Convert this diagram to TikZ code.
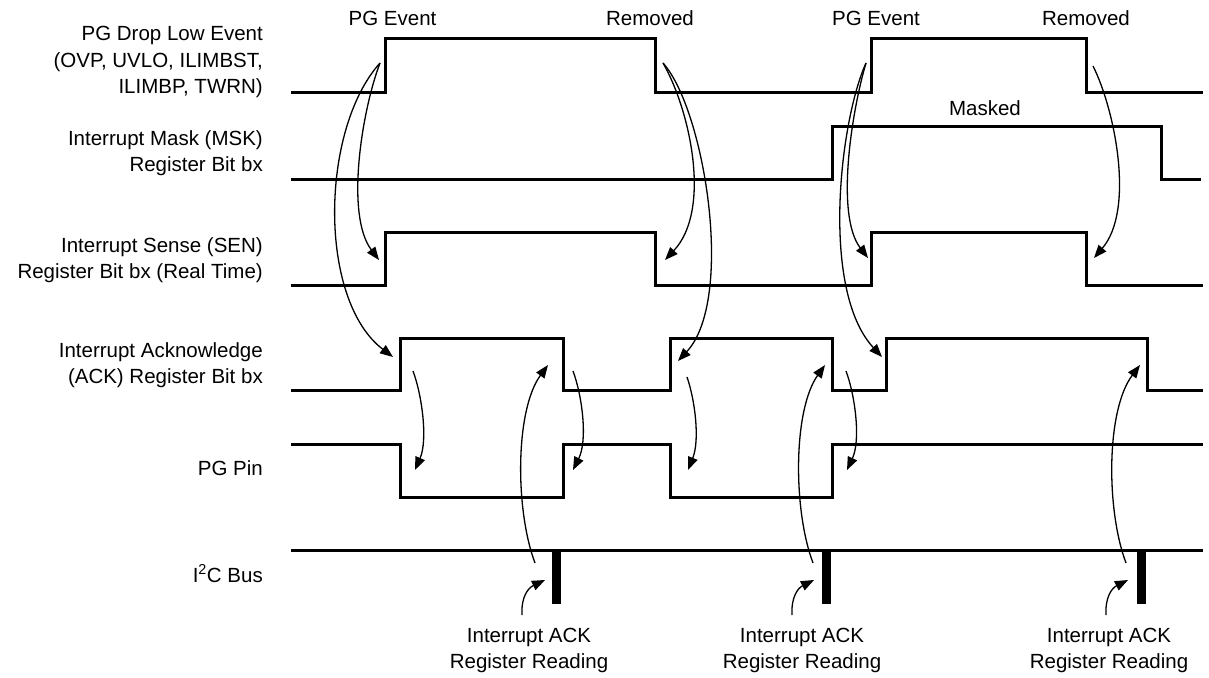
\documentclass[tikz,border=0pt]{standalone}
\usepackage{fontspec}
\setmainfont{Liberation Sans}
\usetikzlibrary{arrows.meta}
\begin{document}
\begin{tikzpicture}[x=1pt,y=-1pt,
  sig/.style={line width=3pt, line join=miter, line cap=butt},
  arr/.style={line width=1.3pt, -{Triangle[length=13pt,width=10pt]}},
  lbl/.style={font=\fontsize{20.5}{24}\selectfont, inner sep=0pt},
  busbar/.style={fill=black},
]
\useasboundingbox (0,0) rectangle (1209,677);
\fill[white] (0,0) rectangle (1209,677);

% ---------- left labels ----------
\node[lbl, anchor=base east] (l1a) at (263,41) {PG Drop Low Event};
\node[lbl, anchor=base east] (l1b) at (263,67.5) {(OVP, UVLO, ILIMBST,};
\node[lbl, anchor=base east] (l1c) at (263,93.5) {ILIMBP, TWRN)};
\node[lbl, anchor=base east] (l2a) at (263,145) {Interrupt Mask (MSK)};
\node[lbl, anchor=base east] (l2b) at (263,171) {Register Bit bx};
\node[lbl, anchor=base east] (l3a) at (263,252) {Interrupt Sense (SEN)};
\node[lbl, anchor=base east] (l3b) at (263,278) {Register Bit bx (Real Time)};
\node[lbl, anchor=base east] (l4a) at (263,357) {Interrupt Acknowledge};
\node[lbl, anchor=base east] (l4b) at (263,383) {(ACK) Register Bit bx};
\node[lbl, anchor=base east] (l5) at (263,475) {PG Pin};
\node[lbl, anchor=base east] (l6) at (263,582) {I\textsuperscript{2}C Bus};

% ---------- top labels ----------
\node[lbl, anchor=base] (ev1) at (392.5,26) {PG Event};
\node[lbl, anchor=base] (rm1) at (650,26) {Removed};
\node[lbl, anchor=base] (ev2) at (876,26) {PG Event};
\node[lbl, anchor=base] (rm2) at (1086,26) {Removed};
\node[lbl, anchor=base] (msk) at (985,115) {Masked};

% ---------- bottom labels ----------
\node[lbl, anchor=base] (r1a) at (529,642) {Interrupt ACK};
\node[lbl, anchor=base] (r1b) at (529,668) {Register Reading};
\node[lbl, anchor=base] (r2a) at (802,642) {Interrupt ACK};
\node[lbl, anchor=base] (r2b) at (802,668) {Register Reading};
\node[lbl, anchor=base] (r3a) at (1109,642) {Interrupt ACK};
\node[lbl, anchor=base] (r3b) at (1109,668) {Register Reading};

% ---------- waveforms ----------
% PG drop low event
\draw[sig] (291,92) -- (385,92) -- (385,39) -- (655,39) -- (655,92) -- (871,92)
  -- (871,39) -- (1086,39) -- (1086,92) -- (1203,92);
% MSK
\draw[sig] (291,179) -- (832,179) -- (832,126) -- (1161,126) -- (1161,179) -- (1201,179);
% SEN
\draw[sig] (291,285) -- (385,285) -- (385,232) -- (655,232) -- (655,285) -- (871,285)
  -- (871,232) -- (1086,232) -- (1086,285) -- (1203,285);
% ACK
\draw[sig] (291,390) -- (400,390) -- (400,338) -- (563,338) -- (563,390) -- (670,390)
  -- (670,338) -- (832,338) -- (832,390) -- (886,390) -- (886,338) -- (1147,338)
  -- (1147,390) -- (1203,390);
% PG pin
\draw[sig] (291,444) -- (400,444) -- (400,497) -- (563,497) -- (563,444) -- (670,444)
  -- (670,497) -- (832,497) -- (832,444) -- (1203,444);
% I2C bus
\draw[sig] (291,550) -- (1203,550);
\fill[busbar] (552,550) rectangle (561,604);
\fill[busbar] (821.5,550) rectangle (830.5,604);
\fill[busbar] (1136.5,550) rectangle (1145.5,604);

% ---------- arrow end points ----------
\coordinate (e1) at (380,63);
\coordinate (e2) at (866,63);
\coordinate (q1) at (663,63);
\coordinate (q2) at (1093,66);
\coordinate (sen1r) at (379,260);
\coordinate (sen1f) at (665,260);
\coordinate (sen2r) at (868,258);
\coordinate (sen2f) at (1094,258);
\coordinate (ack1r) at (393,357);
\coordinate (ack2r) at (678,361);
\coordinate (ack3r) at (882,357);
\coordinate (a1) at (413,371);
\coordinate (a2) at (573,371);
\coordinate (a3) at (687,377);
\coordinate (a4) at (846,371);
\coordinate (p1) at (415,470);
\coordinate (p2) at (573,470);
\coordinate (p3) at (688,470);
\coordinate (p4) at (847,470);
\coordinate (b1) at (535,563);
\coordinate (b2) at (813,563);
\coordinate (b3) at (1126,563);
\coordinate (f1) at (548,365);
\coordinate (f2) at (825,365);
\coordinate (f3) at (1140,365);
\coordinate (t1) at (522,615);
\coordinate (t2) at (792,615);
\coordinate (t3) at (1106,615);
\coordinate (h1) at (545,580);
\coordinate (h2) at (814,580);
\coordinate (h3) at (1128,580);

% ---------- arrows ----------
\draw[arr] (e1) .. controls (362,110) and (345,215) .. (sen1r);
\draw[arr] (e1) .. controls (320,130) and (318,300) .. (ack1r);
\draw[arr] (q1) .. controls (690,110) and (712,210) .. (sen1f);
\draw[arr] (q1) .. controls (705,110) and (735,300) .. (ack2r);
\draw[arr] (e2) .. controls (852,110) and (835,215) .. (sen2r);
\draw[arr] (e2) .. controls (840,120) and (820,290) .. (ack3r);
\draw[arr] (q2) .. controls (1115,110) and (1135,210) .. (sen2f);

\draw[arr] (a1) .. controls (422,395) and (428,440) .. (p1);
\draw[arr] (a2) .. controls (582,395) and (588,440) .. (p2);
\draw[arr] (a3) .. controls (695,400) and (700,440) .. (p3);
\draw[arr] (a4) .. controls (855,395) and (861,440) .. (p4);

\draw[arr] (b1) .. controls (515,510) and (515,410) .. (f1);
\draw[arr] (b2) .. controls (793,510) and (793,410) .. (f2);
\draw[arr] (b3) .. controls (1106,510) and (1106,410) .. (f3);

\draw[arr] (t1) .. controls (521,597) and (528,588) .. (h1);
\draw[arr] (t2) .. controls (791,597) and (798,588) .. (h2);
\draw[arr] (t3) .. controls (1105,597) and (1112,588) .. (h3);
\end{tikzpicture}
\end{document}
